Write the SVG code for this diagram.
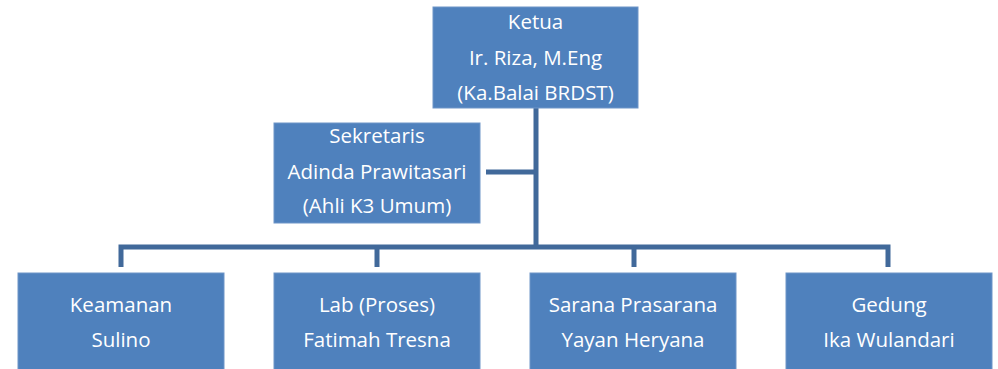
<svg xmlns="http://www.w3.org/2000/svg" width="998" height="369" viewBox="0 0 998 369">
<style>
.box{fill:#4F81BD;stroke:#6E95C8;stroke-width:1}
.t{font-family:"Open Sans","Liberation Sans",sans-serif;font-size:20.5px;fill:#FFFFFF;text-anchor:middle}
.c{fill:none;stroke:#41699A;stroke-width:5}
</style>
<rect width="998" height="369" fill="#FFFFFF"/>
<g id="connectors">
<path class="c" d="M536,108 V247"/>
<path class="c" d="M486,172 H536"/>
<path class="c" d="M121,267 V247 H888 V267"/>
<path class="c" d="M377,247 V267"/>
<path class="c" d="M634,247 V267"/>
</g>
<g id="ketua">
<rect class="box" x="433" y="7" width="205" height="101"/>
<text class="t" x="535.5" y="29">Ketua</text>
<text class="t" x="535.5" y="65">Ir. Riza, M.Eng</text>
<text class="t" x="535.5" y="100">(Ka.Balai BRDST)</text>
</g>
<g id="sekretaris">
<rect class="box" x="274" y="123" width="206" height="100"/>
<text class="t" x="377" y="143">Sekretaris</text>
<text class="t" x="377" y="179">Adinda Prawitasari</text>
<text class="t" x="377" y="213">(Ahli K3 Umum)</text>
</g>
<g id="keamanan">
<rect class="box" x="18" y="273" width="206" height="97"/>
<text class="t" x="121" y="312">Keamanan</text>
<text class="t" x="121" y="347">Sulino</text>
</g>
<g id="lab">
<rect class="box" x="274" y="273" width="206" height="97"/>
<text class="t" x="377" y="312">Lab (Proses)</text>
<text class="t" x="377" y="347">Fatimah Tresna</text>
</g>
<g id="sarana">
<rect class="box" x="530" y="273" width="206" height="97"/>
<text class="t" x="633" y="312">Sarana Prasarana</text>
<text class="t" x="633" y="347">Yayan Heryana</text>
</g>
<g id="gedung">
<rect class="box" x="786" y="273" width="206" height="97"/>
<text class="t" x="889" y="312">Gedung</text>
<text class="t" x="889" y="347">Ika Wulandari</text>
</g>
</svg>
